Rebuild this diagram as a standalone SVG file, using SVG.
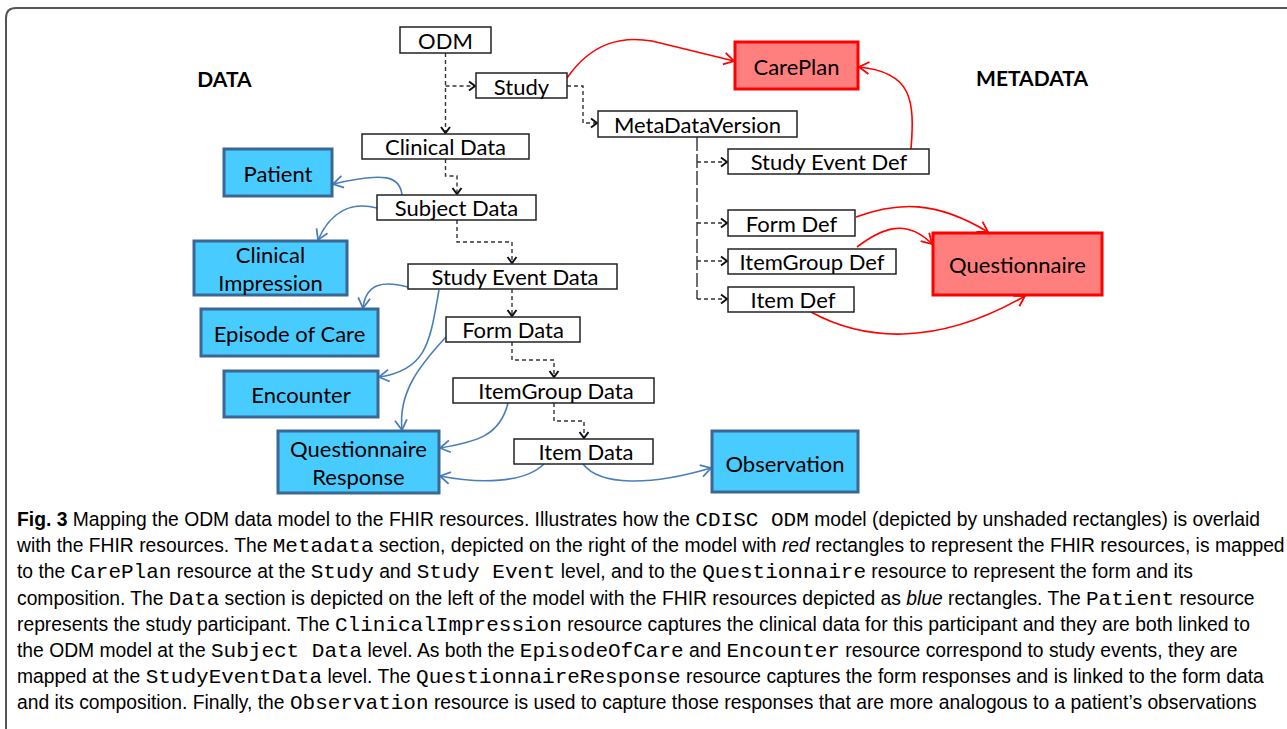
<svg xmlns="http://www.w3.org/2000/svg" width="1287" height="729" viewBox="0 0 1287 729">
<style>
.odm rect{fill:#fff;stroke:#222;stroke-width:1.5}
.blue rect{fill:#48CCFF;stroke:#3B6794;stroke-width:3}
.red rect{fill:#FF7F7F;stroke:#FF0000;stroke-width:3}
text{font-family:Lato,"Open Sans",sans-serif;font-size:22px;fill:#000;text-anchor:middle}
.hdr{font-weight:bold;font-size:21px}
.dash{fill:none;stroke:#333;stroke-width:1.4;stroke-dasharray:4,3}
.vline{fill:none;stroke:#222;stroke-width:1.3;stroke-dasharray:14,3}
.bl{fill:none;stroke:#4A7EBB;stroke-width:1.6}
.rd{fill:none;stroke:#FF0000;stroke-width:1.6}
.cap{font-family:"Liberation Sans",Arial,sans-serif;font-size:19.3px;text-anchor:start;white-space:pre}
.m{font-family:"Liberation Mono","Courier New",monospace;font-size:21px}
.b{font-weight:bold}
.i{font-style:italic}
</style>
<defs>
<marker id="ak" markerUnits="userSpaceOnUse" markerWidth="12" markerHeight="12" viewBox="0 0 8 12" refX="7" refY="6" orient="auto">
<path d="M1,1.5 L7,6 L1,10.5" fill="none" stroke="#111" stroke-width="2"/>
</marker>
<marker id="ab" markerUnits="userSpaceOnUse" markerWidth="14" markerHeight="14" viewBox="0 0 12 14" refX="11" refY="7" orient="auto">
<path d="M1,1 L11,7 L1,13" fill="none" stroke="#4A7EBB" stroke-width="1.8"/>
</marker>
<marker id="ar" markerUnits="userSpaceOnUse" markerWidth="14" markerHeight="14" viewBox="0 0 12 14" refX="11" refY="7" orient="auto">
<path d="M1,1 L11,7 L1,13" fill="none" stroke="#FF0000" stroke-width="1.8"/>
</marker>
</defs>

<path d="M6,740 V18 Q6,8 16,8 H1300" fill="none" stroke="#555" stroke-width="2"/>

<text class="hdr" x="224.5" y="87">DATA</text>
<text class="hdr" x="1032" y="86">METADATA</text>

<g id="connectors">
<path class="dash" d="M445.5,53 V133" marker-end="url(#ak)"/>
<path class="dash" d="M445.5,86 H475" marker-end="url(#ak)"/>
<path class="dash" d="M567,86 H583 V123 H597" marker-end="url(#ak)"/>
<path class="vline" d="M697,137 V299"/>
<path class="dash" d="M697,162 H727" marker-end="url(#ak)"/>
<path class="dash" d="M697,223 H727" marker-end="url(#ak)"/>
<path class="dash" d="M697,261 H727" marker-end="url(#ak)"/>
<path class="dash" d="M697,299 H727" marker-end="url(#ak)"/>
<path class="dash" d="M445.5,159 V176 H457 V194" marker-end="url(#ak)"/>
<path class="dash" d="M457,220 V242 H512 V263" marker-end="url(#ak)"/>
<path class="dash" d="M512,289 V316" marker-end="url(#ak)"/>
<path class="dash" d="M512,342 V360 H554 V377" marker-end="url(#ak)"/>
<path class="dash" d="M554,403 V421 H584 V438" marker-end="url(#ak)"/>

<path class="rd" d="M567,78 C592,42 622,36 652,41 L734,61" marker-end="url(#ar)"/>
<path class="rd" d="M911,149 C915,100 912,72 859,67" marker-end="url(#ar)"/>
<path class="rd" d="M856,217 C898,202 935,200 988,232" marker-end="url(#ar)"/>
<path class="rd" d="M857,247 C882,228 906,218 932,244" marker-end="url(#ar)"/>
<path class="rd" d="M811,312 C862,340 935,348 1025,296" marker-end="url(#ar)"/>

<path class="bl" d="M402,195 C400,176 385,172 333,184" marker-end="url(#ab)"/>
<path class="bl" d="M377,208 C350,201 330,213 318,240" marker-end="url(#ab)"/>
<path class="bl" d="M408,287 C385,281 366,282 363,308" marker-end="url(#ab)"/>
<path class="bl" d="M439,290 C430,340 428,370 379,377" marker-end="url(#ab)"/>
<path class="bl" d="M446,337 C420,365 398,392 402,430" marker-end="url(#ab)"/>
<path class="bl" d="M508,403 C500,436 476,442 440,448" marker-end="url(#ab)"/>
<path class="bl" d="M544,464 C525,483 480,484 440,476" marker-end="url(#ab)"/>
<path class="bl" d="M583,464 C600,486 650,486 711,468" marker-end="url(#ab)"/>
</g>

<g id="odm" class="odm"><rect x="400" y="27" width="91" height="26"/><text x="445.5" y="49">ODM</text></g>
<g id="study" class="odm"><rect x="476" y="73" width="91" height="25"/><text x="521.5" y="95">Study</text></g>
<g id="metadataversion" class="odm"><rect x="598" y="111" width="199" height="26"/><text x="697.5" y="133">MetaDataVersion</text></g>
<g id="clinical-data" class="odm"><rect x="362" y="134" width="167" height="25"/><text x="445.5" y="155">Clinical Data</text></g>
<g id="subject-data" class="odm"><rect x="377" y="195" width="159" height="25"/><text x="456.5" y="216">Subject Data</text></g>
<g id="study-event-data" class="odm"><rect x="408" y="264" width="209" height="25"/><text x="515" y="285">Study Event Data</text></g>
<g id="form-data" class="odm"><rect x="446" y="317" width="134" height="25"/><text x="513" y="338">Form Data</text></g>
<g id="itemgroup-data" class="odm"><rect x="453" y="378" width="201" height="25"/><text x="556" y="399">ItemGroup Data</text></g>
<g id="item-data" class="odm"><rect x="514" y="439" width="139" height="25"/><text x="586" y="460">Item Data</text></g>
<g id="study-event-def" class="odm"><rect x="728" y="149" width="201" height="25"/><text x="829" y="170">Study Event Def</text></g>
<g id="form-def" class="odm"><rect x="728" y="210" width="127" height="26"/><text x="791.5" y="232">Form Def</text></g>
<g id="itemgroup-def" class="odm"><rect x="728" y="249" width="168" height="25"/><text x="812" y="270">ItemGroup Def</text></g>
<g id="item-def" class="odm"><rect x="728" y="287" width="126" height="25"/><text x="793" y="308">Item Def</text></g>

<g id="careplan" class="red"><rect x="735" y="42" width="123" height="47"/><text x="796.5" y="75">CarePlan</text></g>
<g id="questionnaire" class="red"><rect x="933" y="233" width="169" height="62"/><text x="1017.5" y="273">Questionnaire</text></g>

<g id="patient" class="blue"><rect x="224" y="149" width="108" height="47"/><text x="278" y="182">Patient</text></g>
<g id="clinical-impression" class="blue"><rect x="194" y="241" width="153" height="54"/><text x="270.5" y="263">Clinical</text><text x="270.5" y="291">Impression</text></g>
<g id="episode-of-care" class="blue"><rect x="201" y="309" width="177" height="47"/><text x="289.5" y="342">Episode of Care</text></g>
<g id="encounter" class="blue"><rect x="224" y="371" width="154" height="46"/><text x="301" y="403">Encounter</text></g>
<g id="questionnaire-response" class="blue"><rect x="278" y="431" width="161" height="62"/><text x="358.5" y="457">Questionnaire</text><text x="358.5" y="485">Response</text></g>
<g id="observation" class="blue"><rect x="712" y="431" width="146" height="61"/><text x="785" y="472">Observation</text></g>

<g id="caption">
<text class="cap" x="17" y="526"><tspan class="b">Fig. 3</tspan> Mapping the ODM data model to the FHIR resources. Illustrates how the <tspan class="m">CDISC ODM</tspan> model (depicted by unshaded rectangles) is overlaid</text>
<text class="cap" x="17" y="552">with the FHIR resources. The <tspan class="m">Metadata</tspan> section, depicted on the right of the model with <tspan class="i">red</tspan> rectangles to represent the FHIR resources, is mapped</text>
<text class="cap" x="17" y="578">to the <tspan class="m">CarePlan</tspan> resource at the <tspan class="m">Study</tspan> and <tspan class="m">Study Event</tspan> level, and to the <tspan class="m">Questionnaire</tspan> resource to represent the form and its</text>
<text class="cap" x="17" y="605">composition. The <tspan class="m">Data</tspan> section is depicted on the left of the model with the FHIR resources depicted as <tspan class="i">blue</tspan> rectangles. The <tspan class="m">Patient</tspan> resource</text>
<text class="cap" x="17" y="631">represents the study participant. The <tspan class="m">ClinicalImpression</tspan> resource captures the clinical data for this participant and they are both linked to</text>
<text class="cap" x="17" y="657">the ODM model at the <tspan class="m">Subject Data</tspan> level. As both the <tspan class="m">EpisodeOfCare</tspan> and <tspan class="m">Encounter</tspan> resource correspond to study events, they are</text>
<text class="cap" x="17" y="683">mapped at the <tspan class="m">StudyEventData</tspan> level. The <tspan class="m">QuestionnaireResponse</tspan> resource captures the form responses and is linked to the form data</text>
<text class="cap" x="17" y="709">and its composition. Finally, the <tspan class="m">Observation</tspan> resource is used to capture those responses that are more analogous to a patient’s observations</text>
</g>
</svg>
